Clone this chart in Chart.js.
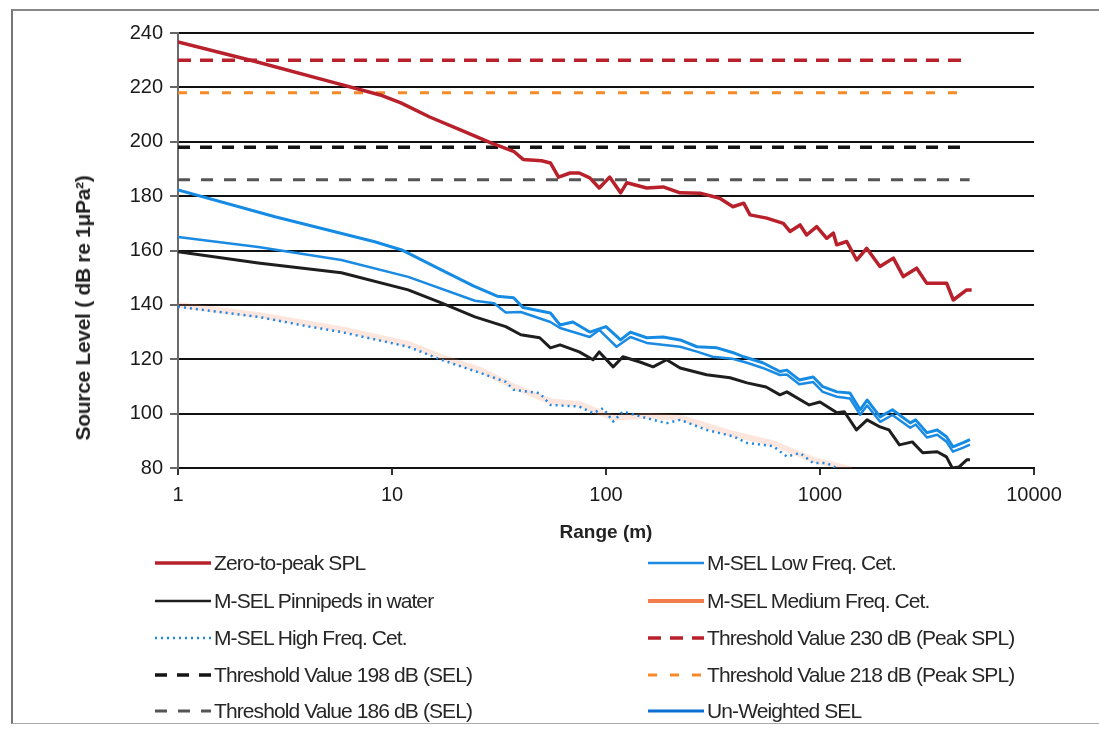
<!DOCTYPE html>
<html>
<head>
<meta charset="utf-8">
<script src="https://cdn.jsdelivr.net/npm/chart.js@4.4.1/dist/chart.umd.min.js"></script>
<style>
  html, body { margin: 0; padding: 0; background: #fff; }
  body { width: 1099px; height: 729px; position: relative; overflow: hidden; font-family: "Liberation Sans", Arial, sans-serif; }
  #wrap { position: absolute; left: 0; top: 0; width: 1099px; height: 550px; }
  #frame { position: absolute; left: 11px; top: 9px; width: 1090px; height: 712px; border-left: 2px solid #777; border-top: 2px solid #888; border-bottom: 1px solid #aaa; }
  #ytitle { position: absolute; left: 83px; top: 308px; transform: translate(-50%, -50%) rotate(-90deg); font-weight: bold; font-size: 21px; color: #222; white-space: nowrap; letter-spacing: -0.3px; }
  .item { position: absolute; height: 30px; display: flex; align-items: center; color: #262626; font-size: 21px; letter-spacing: -0.9px; white-space: nowrap; }
  .item svg { margin-right: 3px; }
</style>
</head>
<body>
<div id="frame"></div>
<div id="wrap"><canvas id="chart" width="1099" height="550"></canvas></div>
<div id="ytitle">Source Level ( dB re 1μPa²)</div>
<div id="legend"></div>
<script>
// ranges (m) and levels (dB)
const zeroPeakRange = [1, 2.3, 5, 8.8, 11, 15, 21, 29, 37, 41, 50, 55, 60, 68, 75, 84, 93, 104, 117, 125, 155, 185, 222, 275, 340, 392, 440, 471, 564, 674, 724, 807, 866, 965, 1075, 1154, 1197, 1333, 1484, 1652, 1906, 2202, 2451, 2830, 3150, 3905, 4197, 4846, 5113];
const zeroPeakLevel = [236.7, 229.5, 222.4, 217.2, 214.3, 209.1, 204.3, 199.6, 196.5, 193.5, 193, 192.2, 187, 188.5, 188.5, 186.7, 183, 187, 181.2, 184.9, 183, 183.4, 181.2, 181.1, 179.2, 176.1, 177.4, 173.1, 171.9, 170, 167, 169.4, 165.7, 168.8, 164.5, 166.4, 162.1, 163.3, 156.5, 160.8, 154.1, 157.2, 150.4, 153.5, 148, 148, 141.8, 145.5, 145.5];

const unweightedRange = [1, 2.84, 8.3, 11.1, 17, 24, 31, 37, 41, 55, 61, 70, 84, 100, 117, 130, 155, 185, 222, 266, 330, 390, 440, 540, 650, 700, 800, 930, 1030, 1200, 1380, 1540, 1660, 1910, 2180, 2640, 2800, 3160, 3530, 3900, 4180, 4670, 5020];
const unweightedLevel = [182.3, 172.4, 163.2, 160.2, 152.9, 147, 143.2, 142.6, 139, 137, 132.6, 133.7, 130, 132, 127.1, 130, 127.9, 128.2, 127.1, 124.6, 124.2, 122.5, 120.9, 118.7, 115.5, 116, 112.4, 113.5, 109.9, 108, 107.6, 101.4, 105, 98.8, 101.4, 96.6, 97.7, 93, 94, 91.5, 87.8, 89.3, 90.4];

const lowFreqRange = [1, 2.37, 5.8, 11.9, 24.4, 30, 34, 40, 55, 61, 84, 93, 112, 130, 155, 222, 266, 315, 390, 456, 540, 650, 700, 800, 930, 1030, 1200, 1380, 1540, 1660, 1910, 2180, 2640, 2800, 3160, 3530, 3900, 4180, 4670, 5020];
const lowFreqLevel = [165, 161.3, 156.5, 150.3, 141.5, 140.6, 137.2, 137.4, 133.7, 131.5, 128.2, 130.8, 124.6, 128.2, 126, 124.6, 122.8, 120.9, 120.2, 118.7, 116.8, 114.2, 114.4, 110.8, 111.6, 108, 106.2, 105.6, 99.6, 103, 97, 99.5, 94.8, 96, 91.2, 92.2, 89.7, 86, 87.5, 88.6];

const pinnipedRange = [1, 2.37, 5.8, 11.9, 17, 24.4, 34, 40, 49, 55, 61, 75, 87, 93, 108, 120, 144, 166, 192, 222, 295, 380, 456, 560, 650, 700, 890, 1000, 1200, 1300, 1480, 1660, 1910, 2100, 2350, 2700, 3020, 3530, 3900, 4150, 4470, 4850, 5020];
const pinnipedLevel = [159.5, 155.4, 151.8, 145.5, 140.7, 135.6, 132, 129, 127.9, 124.2, 125.3, 122.7, 119.8, 122.7, 117.2, 120.9, 119, 117.2, 119.8, 116.8, 114.3, 113.2, 111.3, 109.8, 106.9, 108, 103.2, 104.3, 100.3, 100.7, 94, 97.7, 95.1, 94, 88.5, 89.6, 85.6, 86, 84.1, 80, 80.4, 83, 83];

const highFreqRange = [1, 2.37, 4.1, 5.8, 11.9, 17, 26, 34, 37, 49, 55, 75, 87, 97, 108, 120, 155, 192, 222, 296, 394, 456, 605, 700, 807, 930, 1075, 1240, 1400];
const highFreqLevel = [139.3, 135.6, 132, 130, 124.6, 119.8, 114.9, 111.7, 108.8, 107.5, 103.2, 102.6, 100.2, 102, 97.1, 100.8, 98.3, 96.5, 97.7, 94, 91.6, 89.2, 88, 84.2, 85.5, 81.8, 81.8, 79.4, 78.5];

const mediumFreqRange = [1, 2.5, 6, 12, 17, 26, 37, 55, 75, 108, 155, 222, 394, 605, 930, 1400];
const mediumFreqLevel = [140, 136, 130.8, 125.5, 120.8, 116, 110, 104.5, 103.5, 98.5, 99.2, 98.5, 92.5, 89, 83, 79.5];

const thresholdRange = [1, 5000];
const threshold230 = [230, 230];
const threshold218 = [218, 218];
const threshold198 = [198, 198];
const threshold186 = [186, 186];

const xTicks = [1, 10, 100, 1000, 10000];
const yMin = 80, yMax = 240, yStep = 20;

const FONT = '"Liberation Sans", Arial, sans-serif';

function pts(r, v) {
    return r.map((x, i) => ({ x: x, y: v[i] }));
}

const datasets = [
    { label: 'Zero-to-peak SPL', data: pts(zeroPeakRange, zeroPeakLevel), borderColor: '#b8202b', borderWidth: 3.5, order: 0 },
    { label: 'M-SEL Low Freq. Cet.', data: pts(lowFreqRange, lowFreqLevel), borderColor: '#1b8ae2', borderWidth: 2.5, legendWidth: 2.5, order: 2 },
    { label: 'M-SEL Pinnipeds in water', data: pts(pinnipedRange, pinnipedLevel), borderColor: '#1e1e1e', borderWidth: 3, legendWidth: 2.5, order: 3 },
    { label: 'M-SEL Medium Freq. Cet.', data: pts(mediumFreqRange, mediumFreqLevel), borderColor: 'rgba(240,140,100,0.22)', legendColor: '#f07d4a', borderWidth: 6, order: 6 },
    { label: 'M-SEL High Freq. Cet.', data: pts(highFreqRange, highFreqLevel), borderColor: '#1e88e5', borderWidth: 2.5, borderDash: [2, 4], order: 4 },
    { label: 'Threshold Value 230 dB (Peak SPL)', data: pts(thresholdRange, threshold230), borderColor: '#b8202b', borderWidth: 3.5, borderDash: [13, 9], order: 10 },
    { label: 'Threshold Value 198 dB (SEL)', data: pts(thresholdRange, threshold198), borderColor: '#151515', borderWidth: 3.5, borderDash: [12, 10], order: 10 },
    { label: 'Threshold Value 218 dB (Peak SPL)', data: pts(thresholdRange, threshold218), borderColor: '#f78a28', borderWidth: 3, borderDash: [9, 13], order: 10 },
    { label: 'Threshold Value 186 dB (SEL)', data: pts(thresholdRange, threshold186), borderColor: '#555', borderWidth: 3, borderDash: [12, 11], order: 10 },
    { label: 'Un-Weighted SEL', data: pts(unweightedRange, unweightedLevel), borderColor: '#158be4', legendColor: '#0b70d2', borderWidth: 3, order: 1 }
];

datasets.forEach(d => {
    d.pointRadius = 0;
    d.tension = 0;
    d.fill = false;
    d.borderJoinStyle = 'round';
});

new Chart(document.getElementById('chart'), {
    type: 'line',
    data: { datasets: datasets },
    options: {
        responsive: false,
        animation: false,
        layout: { padding: { top: 33, right: 65, left: 0, bottom: 0 } },
        plugins: { legend: { display: false }, tooltip: { enabled: false } },
        scales: {
            x: {
                type: 'logarithmic',
                min: 1,
                max: 10000,
                afterBuildTicks: s => { s.ticks = xTicks.map(v => ({ value: v })); },
                afterFit: s => { s.height = 82; },
                ticks: { callback: v => String(v), font: { size: 20, family: FONT }, color: '#1a1a1a', padding: 8, maxRotation: 0, autoSkip: false },
                grid: { drawOnChartArea: false, tickLength: 7, color: '#333', lineWidth: 2 },
                border: { color: '#111', width: 2 },
                title: { display: true, text: 'Range (m)', font: { size: 19, weight: 'bold', family: FONT }, color: '#222', padding: { bottom: 6 } }
            },
            y: {
                min: yMin,
                max: yMax,
                afterFit: s => { s.width = 178; },
                ticks: { stepSize: yStep, font: { size: 20, family: FONT }, color: '#1a1a1a', padding: 7 },
                grid: { color: '#111', lineWidth: 2, tickLength: 8, tickColor: '#666' },
                border: { color: '#6b6b6b', width: 2 }
            }
        }
    }
});

// two-column legend under the chart
const legendSlots = [
    ['Zero-to-peak SPL', 0, 0], ['M-SEL Pinnipeds in water', 0, 1], ['M-SEL High Freq. Cet.', 0, 2],
    ['Threshold Value 198 dB (SEL)', 0, 3], ['Threshold Value 186 dB (SEL)', 0, 4],
    ['M-SEL Low Freq. Cet.', 1, 0], ['M-SEL Medium Freq. Cet.', 1, 1], ['Threshold Value 230 dB (Peak SPL)', 1, 2],
    ['Threshold Value 218 dB (Peak SPL)', 1, 3], ['Un-Weighted SEL', 1, 4]
];
const colX = [155, 648];
const rowY = [563, 601, 638, 675, 711];
const legend = document.getElementById('legend');
legendSlots.forEach(([label, col, row]) => {
    const d = datasets.find(ds => ds.label === label);
    const color = d.legendColor || d.borderColor;
    const w = d.legendWidth || Math.min(d.borderWidth, 4);
    const dash = d.borderDash ? d.borderDash.join(' ') : 'none';
    const el = document.createElement('div');
    el.className = 'item';
    el.style.left = colX[col] + 'px';
    el.style.top = (rowY[row] - 15) + 'px';
    el.innerHTML = '<svg width="56" height="10"><line x1="0" y1="5" x2="56" y2="5" stroke="' + color +
        '" stroke-width="' + w + '" stroke-dasharray="' + dash + '"/></svg><span>' + label + '</span>';
    legend.appendChild(el);
});
</script>
</body>
</html>
